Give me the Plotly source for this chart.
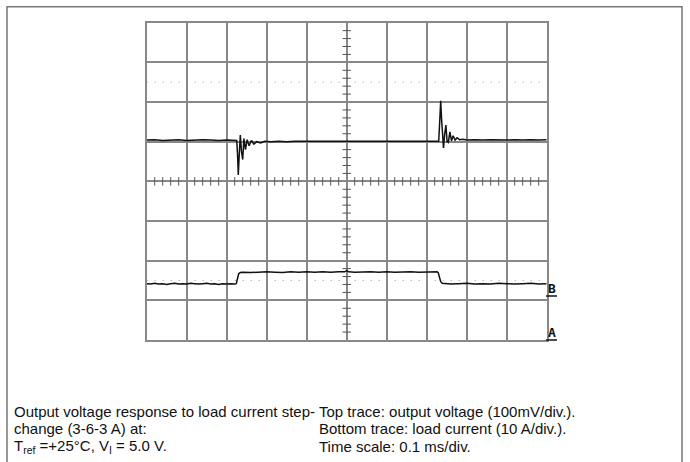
import plotly.graph_objects as go

# ---- data (divisions: x = time div, y = screen div from bottom) ----
v_time = [0.0, 0.2, 0.4, 0.6, 0.8, 1.0, 1.2, 1.4, 1.6, 1.8, 2.0, 2.2,
          2.25, 2.27, 2.29, 2.31, 2.34, 2.37, 2.40, 2.43, 2.47, 2.51, 2.56, 2.62, 2.68, 2.75, 2.85, 2.95,
          3.1, 3.3, 3.5, 3.7, 3.9, 4.1, 4.3, 4.5, 4.7, 4.9, 5.1, 5.3, 5.5, 5.7, 5.9, 6.1, 6.3, 6.5, 6.7, 6.9, 7.1,
          7.3,
          7.33, 7.35, 7.37, 7.40, 7.42, 7.45, 7.48, 7.51, 7.54, 7.58, 7.62, 7.66, 7.71, 7.76, 7.82, 7.9,
          8.0, 8.2, 8.4, 8.6, 8.8, 9.0, 9.2, 9.4, 9.6, 9.8, 10.0]
v_level = [5.04, 5.05, 5.03, 5.04, 5.05, 5.03, 5.04, 5.05, 5.04, 5.03, 5.04, 5.04,
           5.03, 4.70, 4.16, 4.60, 5.17, 4.75, 4.55, 5.08, 4.80, 5.05, 4.90, 5.03, 4.94, 5.00, 4.97, 5.01,
           5.00, 5.01, 5.00, 5.01, 5.01, 5.00, 5.01, 5.00, 5.01, 5.01, 5.00, 5.01, 5.01, 5.00, 5.01, 5.00, 5.01, 5.01, 5.00, 5.01, 5.01,
           5.01,
           5.60, 6.03, 5.60, 4.95, 4.84, 5.20, 5.42, 5.00, 4.98, 5.25, 5.02, 5.15, 5.04, 5.10, 5.05, 5.06,
           5.04, 5.05, 5.04, 5.05, 5.04, 5.04, 5.05, 5.04, 5.05, 5.04, 5.05]

i_time = [0.0, 0.1, 0.2, 0.3, 0.4, 0.5, 0.6, 0.7, 0.8, 0.9, 1.0, 1.1, 1.2, 1.3, 1.4, 1.5, 1.6, 1.7, 1.8, 1.9, 2.0, 2.1, 2.2,
          2.24, 2.27, 2.30, 2.34,
          2.4,
          2.6, 2.8, 3.0, 3.2, 3.4, 3.6, 3.8, 4.0, 4.2, 4.4, 4.6, 4.8,
          4.95, 5.0, 5.05,
          5.2, 5.4, 5.6, 5.8, 6.0, 6.2, 6.4, 6.6, 6.8, 7.0, 7.2,
          7.26, 7.29, 7.32, 7.35, 7.39, 7.45,
          7.6, 7.8, 8.0, 8.2, 8.4, 8.6, 8.8, 9.0, 9.2, 9.4, 9.6, 9.8, 10.0]
i_level = [1.42, 1.41, 1.43, 1.41, 1.42, 1.40, 1.42, 1.43, 1.41, 1.42, 1.41, 1.43, 1.42, 1.41, 1.42, 1.43, 1.41, 1.42, 1.40, 1.42, 1.41, 1.42, 1.41,
           1.42, 1.55, 1.67, 1.70,
           1.71,
           1.70, 1.71, 1.72, 1.71, 1.70, 1.72, 1.71, 1.72, 1.71, 1.72, 1.71, 1.72,
           1.72, 1.75, 1.72,
           1.71, 1.72, 1.72, 1.71, 1.72, 1.71, 1.72, 1.72, 1.71, 1.72, 1.72,
           1.72, 1.69, 1.57, 1.47, 1.43, 1.42,
           1.41, 1.42, 1.43, 1.41, 1.42, 1.41, 1.43, 1.42, 1.41, 1.42, 1.43, 1.41, 1.42]

trigger_time = [2.37]
channel_labels = ["B", "A"]
channel_label_px = [288, 332]      # vertical pixel centre of labels
channel_line_px = [296, 340]       # underline pixel rows
dotted_levels = [6.5, 1.5]

left_caption = ["Output voltage response to load current step-",
                "change (3-6-3 A) at:",
                "T<sub>ref</sub> =+25°C, V<sub>I</sub> = 5.0 V."]
right_caption = ["Top trace: output voltage (100mV/div.).",
                 "Bottom trace: load current (10 A/div.).",
                 "Time scale: 0.1 ms/div."]

# ---- layout geometry ----
W, H = 690, 462
x0, x1 = 146.7, 546.7
ytop, ybot = 22.7, 340.0
NX, NY = 10, 8
grid_c = "#888888"

fig = go.Figure()

# dotted reference lines
for lv in dotted_levels:
    fig.add_trace(go.Scatter(x=[0, NX], y=[lv, lv], mode="lines",
                             line=dict(color="#999", width=1, dash="1px,7px"),
                             hoverinfo="skip", showlegend=False))

# centre graticule ticks
hx = [k / 5 for k in range(1, NX * 5) if k % 5]
fig.add_trace(go.Scatter(x=hx, y=[NY / 2] * len(hx), mode="markers",
                         marker=dict(symbol="line-ns", size=6, line=dict(color="#555", width=1)),
                         hoverinfo="skip", showlegend=False))
vy = [k / 5 for k in range(1, NY * 5) if k % 5]
fig.add_trace(go.Scatter(x=[NX / 2] * len(vy), y=vy, mode="markers",
                         marker=dict(symbol="line-ew", size=6, line=dict(color="#555", width=1)),
                         hoverinfo="skip", showlegend=False))

# traces
fig.add_trace(go.Scatter(x=v_time, y=v_level, mode="lines",
                         line=dict(color="#111", width=1.5), showlegend=False))
fig.add_trace(go.Scatter(x=i_time, y=i_level, mode="lines",
                         line=dict(color="#111", width=1.5), showlegend=False))

# trigger mark
fig.add_trace(go.Scatter(x=trigger_time, y=[-0.03], mode="markers",
                         marker=dict(symbol="square", size=3, color="#111"),
                         cliponaxis=False, showlegend=False))

# channel labels
for lab, py, ly in zip(channel_labels, channel_label_px, channel_line_px):
    fig.add_annotation(x=552 / W, y=1 - py / H, xref="paper", yref="paper", text="<b>%s</b>" % lab,
                       showarrow=False, font=dict(family="DejaVu Sans Mono", size=13, color="#111"),
                       xanchor="center", yanchor="middle")
    fig.add_shape(type="line", xref="paper", yref="paper", x0=546 / W, x1=557 / W,
                  y0=1 - ly / H, y1=1 - ly / H, line=dict(color="#111", width=1.5))

# outer border
fig.add_shape(type="rect", xref="paper", yref="paper",
              x0=7 / W, x1=682 / W, y0=-0.1, y1=1 - 6.7 / H,
              line=dict(color="#777", width=1.5), fillcolor="rgba(0,0,0,0)")

# captions
font = dict(family="Liberation Sans, Arial, sans-serif", size=15, color="#111")
for i, (lt, rt) in enumerate(zip(left_caption, right_caption)):
    yy = 1 - (411.5 + i * 17.3) / H
    fig.add_annotation(x=12 / W, y=yy, xref="paper", yref="paper", text=lt, showarrow=False,
                       xanchor="left", yanchor="middle", font=font)
    fig.add_annotation(x=317 / W, y=yy, xref="paper", yref="paper", text=rt, showarrow=False,
                       xanchor="left", yanchor="middle", font=font)

axis_common = dict(showticklabels=False, ticks="", zeroline=False, showgrid=True,
                   gridcolor=grid_c, gridwidth=1.7, showline=True, linecolor=grid_c,
                   linewidth=1.7, mirror=True, tick0=0, dtick=1, fixedrange=True)
fig.update_layout(
    width=W, height=H, margin=dict(l=0, r=0, t=0, b=0),
    paper_bgcolor="white", plot_bgcolor="white",
    xaxis=dict(range=[0, NX], domain=[x0 / W, x1 / W], **axis_common),
    yaxis=dict(range=[0, NY], domain=[1 - ybot / H, 1 - ytop / H], **axis_common),
)

fig.write_html("out.html", config={"displayModeBar": False},
               post_script="document.body.style.margin='0';document.body.style.overflow='hidden';")
